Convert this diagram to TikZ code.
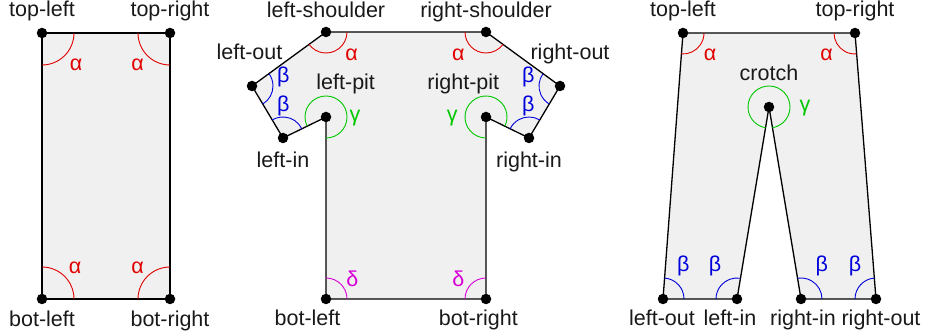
\documentclass[tikz,border=0pt]{standalone}
\usepackage{fontspec}
\setmainfont{Liberation Sans}
\usepackage{tikz}
\usetikzlibrary{positioning,angles}
\usepackage{xcolor}
\definecolor{AngleRed}{RGB}{225,0,0}
\definecolor{AngleBlue}{RGB}{0,0,220}
\definecolor{AngleGreen}{RGB}{0,200,0}
\definecolor{AngleMagenta}{RGB}{215,0,215}
\definecolor{ShapeGray}{RGB}{240,240,240}

\begin{document}
\begin{tikzpicture}[
  x=1pt, y=-1pt,
  every node/.style={font=\fontsize{21.5}{25}\selectfont},
  dotnode/.style={circle, fill=black, inner sep=0pt, minimum size=10.5pt},
  vname/.style={inner sep=0pt, text height=15.6pt, text depth=4.6pt, text=black!90},
  outline/.style={draw=black, fill=ShapeGray, line width=1.3pt, line join=miter},
  alphaarc/.style={draw=AngleRed, line width=0.9pt, angle radius=21pt},
  betaarc/.style={draw=AngleBlue, line width=0.9pt, angle radius=21pt},
  gammaarc/.style={draw=AngleGreen, line width=0.9pt, angle radius=21pt},
  deltaarc/.style={draw=AngleMagenta, line width=0.9pt, angle radius=21pt},
  alphatext/.style={inner sep=0pt, text=AngleRed},
  betatext/.style={inner sep=0pt, text=AngleBlue},
  gammatext/.style={inner sep=0pt, text=AngleGreen},
  deltatext/.style={inner sep=0pt, text=AngleMagenta}
]
\useasboundingbox (0,0) rectangle (926,336);

% Rectangle
\coordinate (r-tl) at (42,33);
\coordinate (r-tr) at (170,33);
\coordinate (r-bl) at (42,299);
\coordinate (r-br) at (170,299);
\draw[outline] (r-tl) -- (r-tr) -- (r-br) -- (r-bl) -- cycle;
\pic[alphaarc, angle radius=32pt] {angle=r-bl--r-tl--r-tr};
\pic[alphaarc, angle radius=32pt] {angle=r-tl--r-tr--r-br};
\pic[alphaarc, angle radius=32pt] {angle=r-br--r-bl--r-tl};
\pic[alphaarc, angle radius=32pt] {angle=r-tr--r-br--r-bl};
\node[alphatext] (r-a1) at (76,65) {α};
\node[alphatext] (r-a2) at (137.5,65) {α};
\node[alphatext] (r-a3) at (75,268) {α};
\node[alphatext] (r-a4) at (137.5,268) {α};
\foreach \p in {r-tl,r-tr,r-bl,r-br}
  \node[dotnode] (\p-dot) at (\p) {};
\node[vname, above=6.5pt of r-tl-dot] (r-tl-name) {top-left};
\node[vname, above=6.5pt of r-tr-dot] (r-tr-name) {top-right};
\node[vname, below=6.5pt of r-bl-dot] (r-bl-name) {bot-left};
\node[vname, below=6.5pt of r-br-dot] (r-br-name) {bot-right};

% Shirt
\coordinate (s-ls) at (326,32);
\coordinate (s-rs) at (486,32);
\coordinate (s-lo) at (252,86);
\coordinate (s-ro) at (560,86);
\coordinate (s-li) at (283,138);
\coordinate (s-ri) at (529,138);
\coordinate (s-lp) at (326,117);
\coordinate (s-rp) at (486,117);
\coordinate (s-bl) at (326,299);
\coordinate (s-br) at (486,299);
\draw[outline] (s-ls) -- (s-rs) -- (s-ro) -- (s-ri) -- (s-rp) -- (s-br)
  -- (s-bl) -- (s-lp) -- (s-li) -- (s-lo) -- cycle;
\pic[alphaarc] {angle=s-lo--s-ls--s-rs};
\pic[alphaarc] {angle=s-ls--s-rs--s-ro};
\pic[betaarc] {angle=s-li--s-lo--s-ls};
\pic[betaarc] {angle=s-lp--s-li--s-lo};
\pic[betaarc] {angle=s-rs--s-ro--s-ri};
\pic[betaarc] {angle=s-ro--s-ri--s-rp};
\pic[gammaarc] {angle=s-bl--s-lp--s-li};
\pic[gammaarc] {angle=s-ri--s-rp--s-br};
\pic[deltaarc] {angle=s-br--s-bl--s-lp};
\pic[deltaarc] {angle=s-rp--s-br--s-bl};
\node[alphatext] (s-a1) at (351.7,55) {α};
\node[alphatext] (s-a2) at (458.3,55) {α};
\node[betatext] (s-b1) at (283.3,77.3) {β};
\node[betatext] (s-b2) at (283.3,106) {β};
\node[betatext] (s-b3) at (528.3,77.3) {β};
\node[betatext] (s-b4) at (528.3,106) {β};
\node[gammatext] (s-g1) at (355,118.3) {γ};
\node[gammatext] (s-g2) at (452.3,118.3) {γ};
\node[deltatext] (s-d1) at (352.3,279.3) {δ};
\node[deltatext] (s-d2) at (458.3,279.3) {δ};
\foreach \p in {s-ls,s-rs,s-lo,s-ro,s-li,s-ri,s-lp,s-rp,s-bl,s-br}
  \node[dotnode] (\p-dot) at (\p) {};
\node[vname, above=4.5pt of s-ls-dot] (s-ls-name) {left-shoulder};
\node[vname, above=4.5pt of s-rs-dot] (s-rs-name) {right-shoulder};
\node[vname, above=16pt of s-lo-dot, xshift=-2.5pt] (s-lo-name) {left-out};
\node[vname, above=16pt of s-ro-dot, xshift=10pt] (s-ro-name) {right-out};
\node[vname, above=17pt of s-lp-dot, xshift=19.7pt] (s-lp-name) {left-pit};
\node[vname, above=17pt of s-rp-dot, xshift=-22.7pt] (s-rp-name) {right-pit};
\node[vname, below=8.3pt of s-li-dot] (s-li-name) {left-in};
\node[vname, below=8.3pt of s-ri-dot] (s-ri-name) {right-in};
\node[vname, below=5.3pt of s-bl-dot, xshift=-18.5pt] (s-bl-name) {bot-left};
\node[vname, below=5.3pt of s-br-dot, xshift=-7.7pt] (s-br-name) {bot-right};

% Pants
\coordinate (p-tl) at (683,33);
\coordinate (p-tr) at (855,33);
\coordinate (p-cr) at (769,107);
\coordinate (p-lo) at (663,299);
\coordinate (p-li) at (737,299);
\coordinate (p-ri) at (801,299);
\coordinate (p-ro) at (876,299);
\draw[outline] (p-tl) -- (p-tr) -- (p-ro) -- (p-ri) -- (p-cr) -- (p-li)
  -- (p-lo) -- cycle;
\pic[alphaarc] {angle=p-lo--p-tl--p-tr};
\pic[alphaarc] {angle=p-tl--p-tr--p-ro};
\pic[gammaarc] {angle=p-ri--p-cr--p-li};
\pic[betaarc] {angle=p-li--p-lo--p-tl};
\pic[betaarc] {angle=p-cr--p-li--p-lo};
\pic[betaarc] {angle=p-ro--p-ri--p-cr};
\pic[betaarc] {angle=p-tr--p-ro--p-ri};
\node[alphatext] (p-a1) at (710,55) {α};
\node[alphatext] (p-a2) at (826.7,55) {α};
\node[gammatext] (p-g1) at (805,108.3) {γ};
\node[betatext] (p-b1) at (683.3,266) {β};
\node[betatext] (p-b2) at (715,266) {β};
\node[betatext] (p-b3) at (821.7,266) {β};
\node[betatext] (p-b4) at (855,266) {β};
\foreach \p in {p-tl,p-tr,p-cr,p-lo,p-li,p-ri,p-ro}
  \node[dotnode] (\p-dot) at (\p) {};
\node[vname, above=6.5pt of p-tl-dot] (p-tl-name) {top-left};
\node[vname, above=6.5pt of p-tr-dot] (p-tr-name) {top-right};
\node[vname, above=16pt of p-cr-dot] (p-cr-name) {crotch};
\node[vname, below=5.3pt of p-lo-dot, xshift=-1pt] (p-lo-name) {left-out};
\node[vname, below=5.3pt of p-li-dot, xshift=-7pt] (p-li-name) {left-in};
\node[vname, below=5.3pt of p-ri-dot, xshift=2pt] (p-ri-name) {right-in};
\node[vname, below=5.3pt of p-ro-dot, xshift=5pt] (p-ro-name) {right-out};
\end{tikzpicture}
\end{document}
